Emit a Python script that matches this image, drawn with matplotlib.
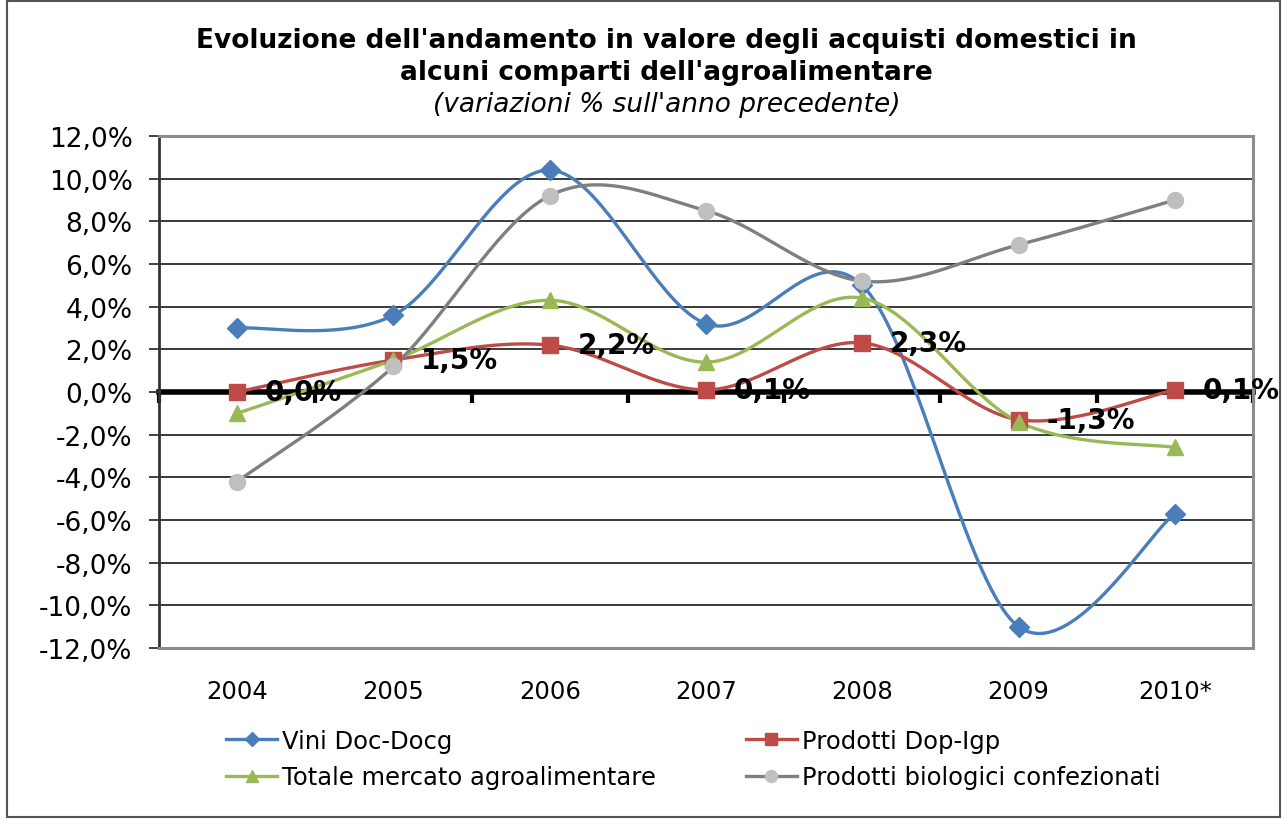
import numpy as np
import matplotlib
matplotlib.use("Agg")
import matplotlib.pyplot as plt
from matplotlib.lines import Line2D
from matplotlib.patches import Rectangle
from matplotlib.ticker import FuncFormatter

years = ["2004", "2005", "2006", "2007", "2008", "2009", "2010*"]
vini = [3.0, 3.6, 10.4, 3.2, 5.0, -11.0, -5.7]
dop_igp = [0.0, 1.5, 2.2, 0.1, 2.3, -1.3, 0.1]
totale = [-1.0, 1.5, 4.3, 1.4, 4.4, -1.4, -2.6]
biologici = [-4.2, 1.2, 9.2, 8.5, 5.2, 6.9, 9.0]

names = ["Vini Doc-Docg", "Prodotti Dop-Igp", "Totale mercato agroalimentare",
         "Prodotti biologici confezionati"]


def smooth(x, y, n=40):
    pts = np.column_stack([x, y]).astype(float)
    P = np.vstack([pts[0], pts, pts[-1]])
    out = []
    t = np.linspace(0, 1, n)[:, None]
    for i in range(len(pts) - 1):
        p0, p1, p2, p3 = P[i], P[i + 1], P[i + 2], P[i + 3]
        c1 = p1 + (p2 - p0) / 6.0
        c2 = p2 - (p3 - p1) / 6.0
        seg = (1 - t) ** 3 * p1 + 3 * (1 - t) ** 2 * t * c1 + 3 * (1 - t) * t ** 2 * c2 + t ** 3 * p2
        out.append(seg if i == 0 else seg[1:])
    s = np.vstack(out)
    return s[:, 0], s[:, 1]


fig = plt.figure(figsize=(12.82, 8.2), dpi=100)
fig.patch.set_facecolor("white")
ax = fig.add_axes([159 / 1282, 1 - 649 / 820, (1253 - 159) / 1282, (649 - 137) / 820])
ax.set_zorder(2)
ax.patch.set_visible(False)

x = np.arange(len(years))
series = [
    (vini, "#4A7EBB", "#4A7EBB", "D", 10),
    (dop_igp, "#BE4B48", "#BE4B48", "s", 11.5),
    (totale, "#98B954", "#98B954", "^", 11.5),
    (biologici, "#7F7F7F", "#BFBFBF", "o", 11.5),
]
handles = []
for (vals, lc, mc, mk, ms), nm in zip(series, names):
    sx, sy = smooth(x, vals)
    ax.plot(sx, sy, color=lc, lw=2.4, zorder=3, solid_capstyle="round")
    ax.plot(x, vals, linestyle="none", marker=mk, markersize=ms, color=mc,
            markeredgecolor=mc, zorder=4)
    handles.append(Line2D([], [], color=lc, lw=2.4, marker=mk, markersize=ms * 0.75,
                          markerfacecolor=mc, markeredgecolor=mc))

for xi, v in zip(x, dop_igp):
    lab = f"{v:.1f}".replace(".", ",") + "%"
    ax.annotate(lab, (xi, v), xytext=(20, 0), textcoords="offset points",
                ha="left", va="center", fontsize=20, fontweight="bold",
                color="black", zorder=5)

ax.set_xlim(-0.5, len(years) - 0.5)
ax.set_ylim(-12, 12)
yt = np.arange(-12, 12.1, 2)
ax.set_yticks(yt)
ax.yaxis.set_major_formatter(FuncFormatter(lambda v, p: f"{v:.1f}".replace(".", ",") + "%"))
ax.set_xticks(x)
ax.set_xticklabels(years)
ax.tick_params(axis="x", length=0, pad=22, labelsize=17.5)
ax.tick_params(axis="y", direction="out", length=7, width=1.3, color="#333333",
               pad=12, labelsize=19)
ax.grid(axis="y", color="#2b2b2b", lw=1.3)
ax.set_axisbelow(True)
for tk, v in zip(ax.yaxis.get_major_ticks(), yt):
    if v == 0:
        tk.gridline.set_visible(False)
for s in ["top", "right", "bottom"]:
    ax.spines[s].set_color("#8C8C8C")
    ax.spines[s].set_linewidth(2.2)
ax.spines["left"].set_color("#333333")
ax.spines["left"].set_linewidth(2)

# zero axis with category boundary ticks
ax2 = ax.twiny()
ax2.set_zorder(1)
ax2.set_xlim(ax.get_xlim())
ax2.spines["bottom"].set_position(("data", 0))
for s in ["top", "right", "left"]:
    ax2.spines[s].set_visible(False)
ax2.spines["bottom"].set_linewidth(4)
ax2.spines["bottom"].set_color("black")
ax2.xaxis.set_ticks_position("bottom")
ax2.set_xticks(np.arange(-0.5, len(years), 1.0))
ax2.tick_params(axis="x", direction="out", length=8, width=3, color="black",
                labelbottom=False, labeltop=False)

fig.text(0.52, 1 - 41 / 820, "Evoluzione dell'andamento in valore degli acquisti domestici in",
         ha="center", va="center", fontsize=19, fontweight="bold")
fig.text(0.52, 1 - 73 / 820, "alcuni comparti dell'agroalimentare",
         ha="center", va="center", fontsize=19, fontweight="bold")
fig.text(0.52, 1 - 105 / 820, "(variazioni % sull'anno precedente)",
         ha="center", va="center", fontsize=19, fontstyle="italic")

order = [0, 2, 1, 3]
leg = fig.legend([handles[i] for i in order], [names[i] for i in order], ncol=2,
                 loc="upper left", bbox_to_anchor=(226 / 1282, 1 - 730 / 820),
                 frameon=False, fontsize=17.5, handlelength=2.1, handletextpad=0.2,
                 columnspacing=3.7, labelspacing=0.5, borderaxespad=0, borderpad=0)

fig.add_artist(Rectangle((7 / 1282, 2 / 820), (1280 - 7) / 1282, (818 - 2) / 820,
                         transform=fig.transFigure, fill=False, edgecolor="#555555", lw=1.5))

fig.savefig("out.png", dpi=100, facecolor="white")
